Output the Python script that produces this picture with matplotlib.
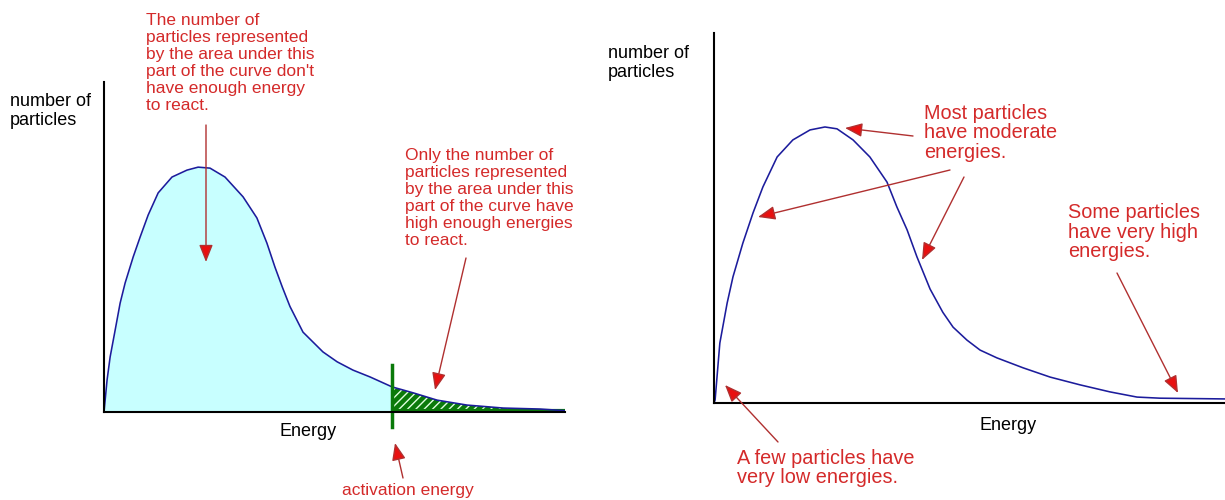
#!/usr/bin/env python3
"""
Maxwell-Boltzmann style energy distribution sketches:
left - activation energy shading, right - annotated curve
"""
import matplotlib.pyplot as plt
from matplotlib.patches import FancyArrowPatch
import numpy as np

plt.rcParams['font.family'] = ['Liberation Sans', 'DejaVu Sans']

# LEFT panel curve (energy, number of particles)
left_energy = np.array([0, 0.08, 0.16, 0.29, 0.42, 0.55, 0.76, 0.94, 1.15, 1.41, 1.77,
                        2.16, 2.45, 2.76, 3.15, 3.62, 3.98, 4.24, 4.45, 4.64, 4.84,
                        5.18, 5.44, 5.70, 6.07, 6.48, 6.93, 7.5, 8.05, 8.67, 9.45,
                        10.39, 11.35, 12.0])
left_count = np.array([0, 0.97, 1.67, 2.48, 3.30, 3.91, 4.70, 5.30, 5.97, 6.64, 7.12,
                       7.33, 7.42, 7.39, 7.12, 6.52, 5.88, 5.12, 4.39, 3.79, 3.20,
                       2.42, 2.12, 1.82, 1.52, 1.27, 1.06, 0.76, 0.58, 0.36, 0.21,
                       0.12, 0.09, 0.04])
activation = 7.5

# RIGHT panel curve
right_energy = np.array([0, 0.03, 0.16, 0.36, 0.52, 0.79, 1.07, 1.34, 1.73, 2.16, 2.63,
                         3.04, 3.37, 3.81, 4.27, 4.74, 5.01, 5.29, 5.56, 5.92, 6.27,
                         6.55, 6.93, 7.29, 7.75, 8.47, 9.21, 10.03, 10.85, 11.59,
                         12.22, 14.0])
right_count = np.array([0, 0.08, 1.62, 2.70, 3.41, 4.32, 5.14, 5.84, 6.65, 7.11, 7.38,
                        7.46, 7.41, 7.11, 6.65, 5.97, 5.30, 4.68, 3.95, 3.08, 2.45,
                        2.05, 1.70, 1.43, 1.22, 0.95, 0.70, 0.49, 0.30, 0.16,
                        0.13, 0.11])

RED = '#d42a2a'
SHAFT = '#b03030'
HEAD = '#e81010'
CURVE = '#1c1c9c'
GREEN = '#0a7a0a'

W, H = 1225, 500
fig = plt.figure(figsize=(W / 100, H / 100), dpi=100)


def fp(x, y):
    # pixel position (top-left origin) -> figure fraction
    return (x / W, 1 - y / H)


def red_arrow(x0, y0, x1, y1):
    arr = FancyArrowPatch(fp(x0, y0), fp(x1, y1), transform=fig.transFigure,
                          arrowstyle='-|>,head_length=1.05,head_width=0.42',
                          mutation_scale=10, ec=SHAFT, fc=HEAD, lw=1,
                          shrinkA=0, shrinkB=0)
    fig.add_artist(arr)


def label(x, y, s, color=RED, size=12.5, ha='left', ls=1.18):
    fig.text(*fp(x, y), s, color=color, fontsize=size, ha=ha, va='center',
             linespacing=ls)


def bare_axes(rect):
    ax = fig.add_axes(rect)
    for side in ['top', 'right']:
        ax.spines[side].set_visible(False)
    for side in ['left', 'bottom']:
        ax.spines[side].set_linewidth(1.5)
        ax.spines[side].set_color('black')
    ax.set_xticks([])
    ax.set_yticks([])
    ax.patch.set_alpha(0)
    return ax


# ---- LEFT ----
ax1 = bare_axes([104 / W, 1 - 412 / H, 461 / W, 330 / H])
ax1.set_xlim(0, 12)
ax1.set_ylim(0, 10)
hot = left_energy >= activation
ax1.fill_between(left_energy, left_count, where=left_energy <= activation,
                 color='#c8ffff', lw=0)
ax1.fill_between(left_energy, left_count, where=hot,
                 facecolor=GREEN, edgecolor='#e0ffe0', hatch='////', lw=0)
ax1.plot(left_energy[hot], np.full(hot.sum(), 0.04), color=GREEN, lw=3,
         solid_capstyle='butt')
ax1.plot(left_energy, left_count, color=CURVE, lw=1.15)
ax1.plot([activation, activation], [-0.45, 1.42], color=GREEN, lw=2.5, clip_on=False)

label(10, 111, 'number of\nparticles', color='black', size=13)
label(308, 432, 'Energy', color='black', size=13, ha='center')
label(146, 63, 'The number of\nparticles represented\nby the area under this\n'
      "part of the curve don't\nhave enough energy\nto react.")
red_arrow(206, 125, 206, 262)
label(405, 198, 'Only the number of\nparticles represented\nby the area under this\n'
      'part of the curve have\nhigh enough energies\nto react.')
red_arrow(466, 258, 435, 390)
label(408, 490, 'activation energy', ha='center')
red_arrow(403, 478, 395, 443)

# ---- RIGHT ----
ax2 = bare_axes([714 / W, 1 - 403 / H, 511 / W, 370 / H])
ax2.set_xlim(0, 14)
ax2.set_ylim(0, 10)
ax2.plot(right_energy, right_count, color=CURVE, lw=1.15)

label(608, 63, 'number of\nparticles', color='black', size=13)
label(1008, 425, 'Energy', color='black', size=13, ha='center')
label(924, 133, 'Most particles\nhave moderate\nenergies.', size=14.3, ls=1.05)
red_arrow(913, 136, 845, 128)
red_arrow(950, 170, 758, 217)
red_arrow(964, 177, 922, 260)
label(1068, 232, 'Some particles\nhave very high\nenergies.', size=14.3, ls=1.05)
red_arrow(1117, 273, 1178, 393)
label(737, 468, 'A few particles have\nvery low energies.', size=14.3, ls=1.05)
red_arrow(778, 442, 725, 385)

fig.savefig('out.png', dpi=100, facecolor='white')
print("Chart saved: out.png")
